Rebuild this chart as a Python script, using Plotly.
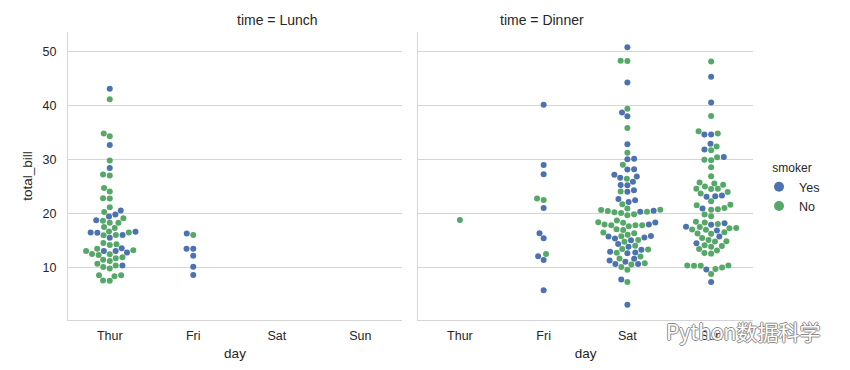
import numpy as np
import plotly.graph_objects as go

# ---------------- data (tips: total_bill by time / day / smoker) ----------------
days = ["Thur", "Fri", "Sat", "Sun"]
times = ["Lunch", "Dinner"]
smoker_levels = ["Yes", "No"]
smoker_colors = ["#4C72B0", "#55A868"]

lunch_thur_yes = [19.44, 32.68, 16.0, 19.81, 28.44, 15.48, 16.58, 10.34, 43.11, 13.0,
                  13.51, 18.71, 12.74, 13.0, 16.4, 20.53, 16.47]
lunch_thur_no = [27.2, 22.76, 17.29, 16.66, 10.07, 15.98, 34.83, 13.03, 18.28, 24.71, 21.16,
                 10.65, 12.43, 24.08, 11.69, 13.42, 14.26, 15.95, 12.48, 29.8, 8.52, 14.52,
                 11.38, 22.82, 19.08, 20.27, 11.17, 12.26, 18.26, 8.51, 10.33, 14.15, 13.16,
                 17.47, 34.3, 41.19, 27.05, 16.43, 8.35, 18.64, 11.87, 9.78, 7.51, 7.56]
lunch_fri_yes = [12.16, 13.42, 8.58, 13.42, 16.27, 10.09]
lunch_fri_no = [15.98]

dinner_thur_yes = []
dinner_thur_no = [18.78]
dinner_fri_yes = [28.97, 5.75, 16.32, 40.17, 27.28, 12.03, 21.01, 11.35, 15.38]
dinner_fri_no = [22.49, 22.75, 12.46]
dinner_sat_yes = [38.01, 11.24, 20.29, 13.81, 11.02, 18.29, 3.07, 15.01, 26.86, 25.28, 17.92,
                  44.3, 22.42, 15.36, 20.49, 25.21, 14.31, 10.59, 10.63, 50.81, 15.81, 26.59,
                  38.73, 24.27, 12.76, 30.06, 25.89, 13.27, 28.17, 12.9, 28.15, 11.59, 7.74,
                  30.14, 22.12, 24.01, 15.69, 15.53, 12.6, 32.83, 27.18, 22.67]
dinner_sat_no = [20.65, 17.92, 20.29, 15.77, 39.42, 19.82, 17.81, 13.37, 12.69, 21.7, 19.65,
                 9.55, 18.35, 15.06, 20.69, 17.78, 24.06, 16.31, 16.93, 18.69, 31.27, 16.04,
                 26.41, 48.27, 17.59, 20.08, 16.45, 20.23, 12.02, 17.07, 14.73, 10.51, 20.92,
                 18.24, 14.0, 7.25, 48.33, 20.45, 13.28, 11.61, 10.77, 10.07, 35.83, 29.03, 17.82]
dinner_sun_yes = [17.51, 7.25, 31.85, 16.82, 32.9, 17.89, 14.48, 9.6, 34.63, 34.65, 23.33,
                  45.35, 23.17, 40.55, 20.9, 30.46, 18.15, 23.1, 15.69]
dinner_sun_no = [16.99, 10.34, 21.01, 23.68, 24.59, 25.29, 8.77, 26.88, 15.04, 14.78, 10.27,
                 35.26, 15.42, 18.43, 14.83, 21.58, 10.33, 16.29, 16.97, 17.46, 13.94, 9.68,
                 30.4, 18.29, 22.23, 32.4, 28.55, 18.04, 12.54, 10.29, 34.81, 9.94, 25.56,
                 19.49, 38.07, 23.95, 25.71, 17.31, 29.93, 14.07, 13.13, 17.26, 24.55, 19.77,
                 29.85, 48.17, 25.0, 13.39, 16.49, 21.5, 12.66, 16.21, 13.81, 24.52, 20.76,
                 31.71, 20.69]

y_ticks = [10, 20, 30, 40, 50]

groups = {
    ("Lunch", "Thur"): (lunch_thur_yes, lunch_thur_no),
    ("Lunch", "Fri"): (lunch_fri_yes, lunch_fri_no),
    ("Dinner", "Thur"): (dinner_thur_yes, dinner_thur_no),
    ("Dinner", "Fri"): (dinner_fri_yes, dinner_fri_no),
    ("Dinner", "Sat"): (dinner_sat_yes, dinner_sat_no),
    ("Dinner", "Sun"): (dinner_sun_yes, dinner_sun_no),
}

# ---------------- layout geometry ----------------
W, H = 850, 370
M_L, M_R, M_T, M_B = 68, 97, 32, 50
plot_w = W - M_L - M_R
plot_h = H - M_T - M_B
dom_left = [0.0, 0.4876]
dom_right = [0.511, 1.0]
y_range = [0.22, 53.65]
x_range = [-0.5, 3.5]

px_per_cat = (dom_left[1] - dom_left[0]) * plot_w / (x_range[1] - x_range[0])
px_per_val = plot_h / (y_range[1] - y_range[0])
MARKER = 6
D_SWARM = 6.4


def beeswarm(ypx, d):
    """seaborn-style swarm: ypx sorted ascending, returns x offsets in px"""
    xs, ys = [0.0], [ypx[0]]
    for y in ypx[1:]:
        nb = []
        for j in range(len(ys) - 1, -1, -1):
            if y - ys[j] < d:
                nb.append((xs[j], ys[j]))
            else:
                break
        nb.reverse()
        cands = [(0.0, y)]
        left_first = True
        for xj, yj in nb:
            dy = y - yj
            dx = np.sqrt(max(d * d - dy * dy, 0)) * 1.05
            cl, cr = (xj - dx, y), (xj + dx, y)
            cands.extend([cl, cr] if left_first else [cr, cl])
            left_first = not left_first
        cands.sort(key=lambda c: abs(c[0]))
        chosen = cands[0]
        if nb:
            for c in cands:
                if all((c[0] - xj) ** 2 + (c[1] - yj) ** 2 >= d * d - 1e-9 for xj, yj in nb):
                    chosen = c
                    break
        xs.append(chosen[0])
        ys.append(y)
    return xs


fig = go.Figure()

for ti, t in enumerate(times):
    X, Y, C, T = [], [], [], []
    for di, dname in enumerate(days):
        if (t, dname) not in groups:
            continue
        yes_vals, no_vals = groups[(t, dname)]
        pts = [(v, 0) for v in yes_vals] + [(v, 1) for v in no_vals]
        pts.sort(key=lambda p: p[0])
        if not pts:
            continue
        offs = beeswarm([p[0] * px_per_val for p in pts], D_SWARM)
        half = 0.4 * px_per_cat
        for (v, s), o in zip(pts, offs):
            o = min(max(o, -half), half)
            X.append(di + o / px_per_cat)
            Y.append(v)
            C.append(smoker_colors[s])
            T.append(smoker_levels[s])
    sfx = "" if ti == 0 else "2"
    fig.add_trace(go.Scatter(
        x=X, y=Y, mode="markers", xaxis="x" + sfx, yaxis="y" + sfx,
        marker=dict(size=MARKER, color=C, line=dict(width=0)),
        text=T, showlegend=False,
        hovertemplate="total_bill=%{y}<br>smoker=%{text}<extra></extra>"))

# legend entries
for s, col in zip(smoker_levels, smoker_colors):
    fig.add_trace(go.Scatter(x=[None], y=[None], mode="markers", name=s,
                             xaxis="x2", yaxis="y2",
                             marker=dict(size=10, color=col, line=dict(width=0))))

font_fam = "Liberation Sans, Arial, sans-serif"
grid_col = "#d5d5d5"
txt_col = "#262626"

xcommon = dict(range=x_range, tickmode="array", tickvals=list(range(len(days))),
               ticktext=days, showgrid=False, zeroline=False, showline=True,
               linecolor=grid_col, linewidth=1, ticks="outside", ticklen=4,
               tickcolor="rgba(0,0,0,0)", tickfont=dict(size=12.5, color=txt_col),
               title=dict(text="day", font=dict(size=13.5, color=txt_col), standoff=6),
               fixedrange=True)
ycommon = dict(range=y_range, tickmode="array", tickvals=y_ticks, showgrid=True,
               gridcolor=grid_col, gridwidth=1, zeroline=False, showline=True,
               linecolor=grid_col, linewidth=1, fixedrange=True)

fig.update_layout(
    width=W, height=H,
    margin=dict(l=M_L, r=M_R, t=M_T, b=M_B),
    paper_bgcolor="white", plot_bgcolor="white",
    font=dict(family=font_fam, color=txt_col),
    xaxis=dict(domain=dom_left, anchor="y", **xcommon),
    xaxis2=dict(domain=dom_right, anchor="y2", **xcommon),
    yaxis=dict(anchor="x", ticks="outside", ticklen=8, tickcolor="rgba(0,0,0,0)",
               tickfont=dict(size=12.5, color=txt_col),
               title=dict(text="total_bill", font=dict(size=13.5, color=txt_col), standoff=6),
               **ycommon),
    yaxis2=dict(anchor="x2", matches="y", showticklabels=False, ticks="", **ycommon),
    legend=dict(x=1.0 + 6 / plot_w, xanchor="left", y=0.455, yanchor="middle",
                title=dict(text="smoker", side="top center",
                           font=dict(size=12, color=txt_col)),
                font=dict(size=12.5, color=txt_col), bgcolor="rgba(0,0,0,0)",
                itemsizing="trace", tracegroupgap=0),
    showlegend=True,
)

for ti, t in enumerate(times):
    dom = dom_left if ti == 0 else dom_right
    fig.add_annotation(text=f"time = {t}", xref="paper", yref="paper",
                       x=(dom[0] + dom[1]) / 2, y=1.0, yshift=12, yanchor="middle",
                       showarrow=False, font=dict(size=14, color=txt_col))

# watermark present in the reference image
fig.add_annotation(text="Python数据科学", xref="paper", yref="paper",
                   x=(822 - M_L) / plot_w, y=-(331 - (H - M_B)) / plot_h,
                   xanchor="right", yanchor="middle", showarrow=False,
                   font=dict(size=21, color="white", family="Noto Sans CJK SC",
                             shadow="1px 0 0 #8a8a8a, -1px 0 0 #8a8a8a, 0 1px 0 #8a8a8a, 0 -1px 0 #8a8a8a"))

fig.write_html("out.html", config={"displayModeBar": False},
               post_script="document.body.style.margin='0';document.body.style.overflow='hidden';")
